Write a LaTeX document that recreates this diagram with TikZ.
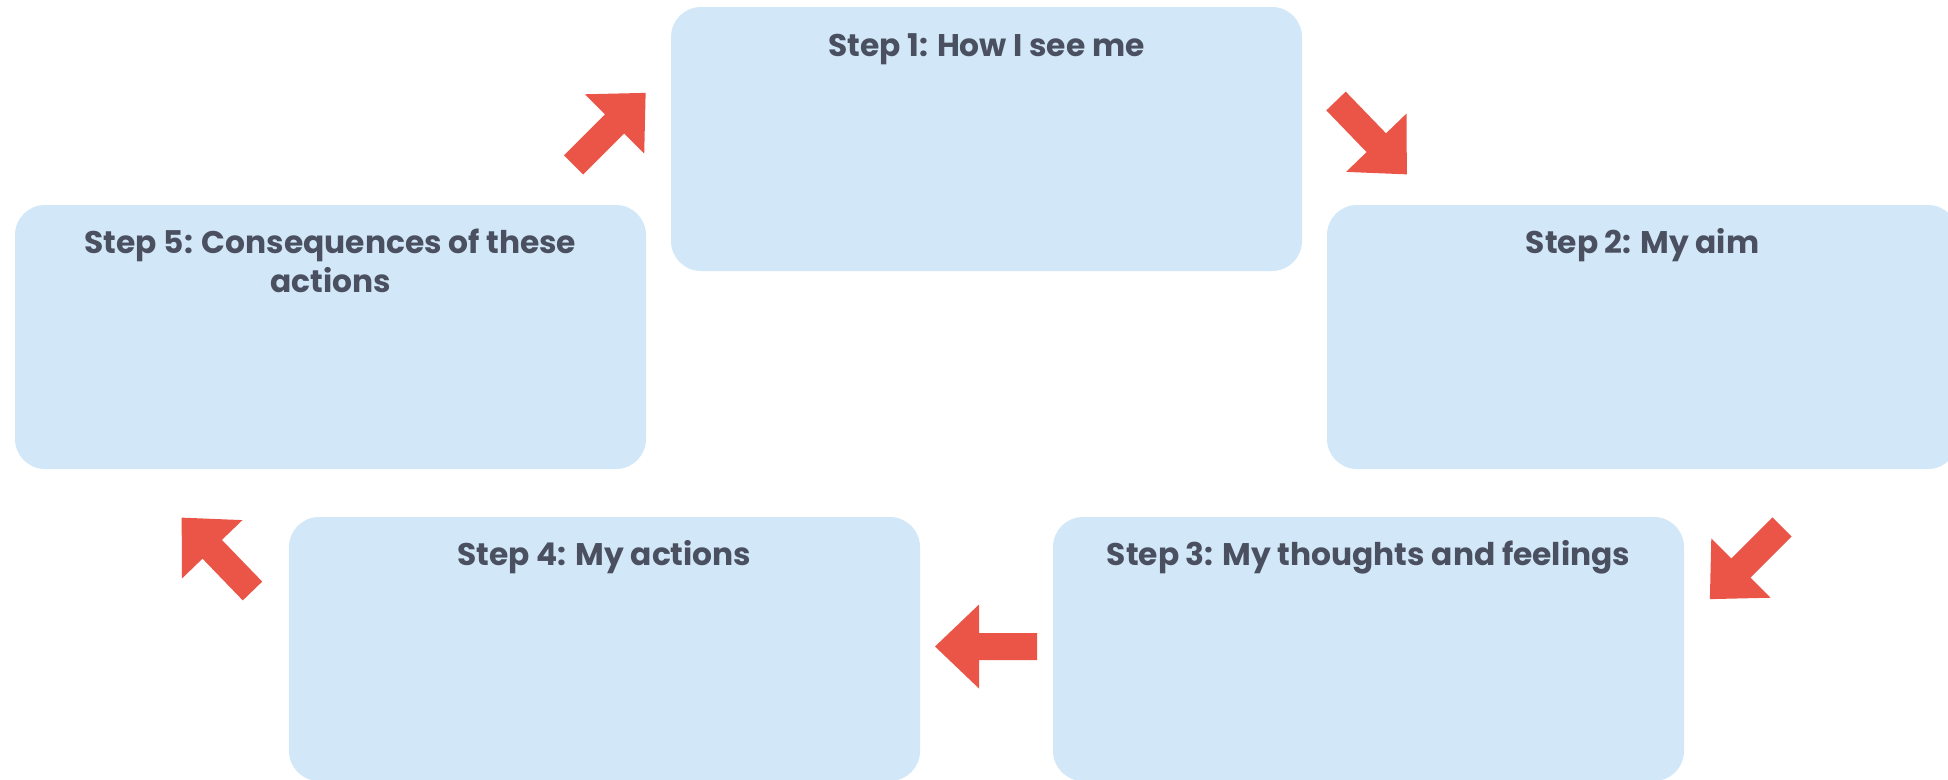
\documentclass[tikz,border=0pt]{standalone}
\usepackage{fontspec}
\setmainfont{Poppins}
\definecolor{boxblue}{RGB}{210,232,248}
\definecolor{arrowred}{RGB}{234,85,72}
\definecolor{titlegray}{RGB}{74,80,96}
\begin{document}
\begin{tikzpicture}[x=1pt,y=-1pt,
  stepbox/.style={fill=boxblue, rounded corners=30pt, minimum width=631pt, minimum height=264pt, inner sep=0pt, draw=none},
  steptitle/.style={font=\fontsize{31.3}{39}\selectfont\bfseries, text=titlegray, anchor=base, inner sep=0pt, align=center},
  blockarrow/.pic={\fill[arrowred] (0,-13.5) -- (58,-13.5) -- (58,-42) -- (102,0) -- (58,42) -- (58,13.5) -- (0,13.5) -- cycle;}]
\useasboundingbox (0,0) rectangle (1948,779);
\fill[white] (0,0) rectangle (1948,779);
\clip (0,0) rectangle (1948,779);
% boxes
\node[stepbox] (b1) at (986.5,139) {};
\node[stepbox] (b2) at (1642.5,337) {};
\node[stepbox] (b3) at (1368.5,649) {};
\node[stepbox] (b4) at (604.5,649) {};
\node[stepbox] (b5) at (330.5,337) {};
% titles
\node[steptitle] (t1) at ([yshift=-50pt]b1.north) {Step 1: How I see me};
\node[steptitle] (t2) at ([yshift=-49pt]b2.north) {Step 2: My aim};
\node[steptitle] (t3) at ([yshift=-49pt]b3.north) {Step 3: My thoughts and feelings};
\node[steptitle] (t4) at ([yshift=-49pt]b4.north) {Step 4: My actions};
\node[steptitle] (t5) at ([yshift=-88pt]b5.north) {Step 5: Consequences of these\\actions};
% arrows
\pic[rotate=45] (a51) at (573.5,165) {blockarrow};
\pic[rotate=-46] (a12) at (1336,101) {blockarrow};
\pic[rotate=-135] (a23) at (1782,527) {blockarrow};
\pic[rotate=180] (a34) at (1037,646.5) {blockarrow};
\pic[rotate=134] (a45) at (252.5,591) {blockarrow};
\end{tikzpicture}
\end{document}
